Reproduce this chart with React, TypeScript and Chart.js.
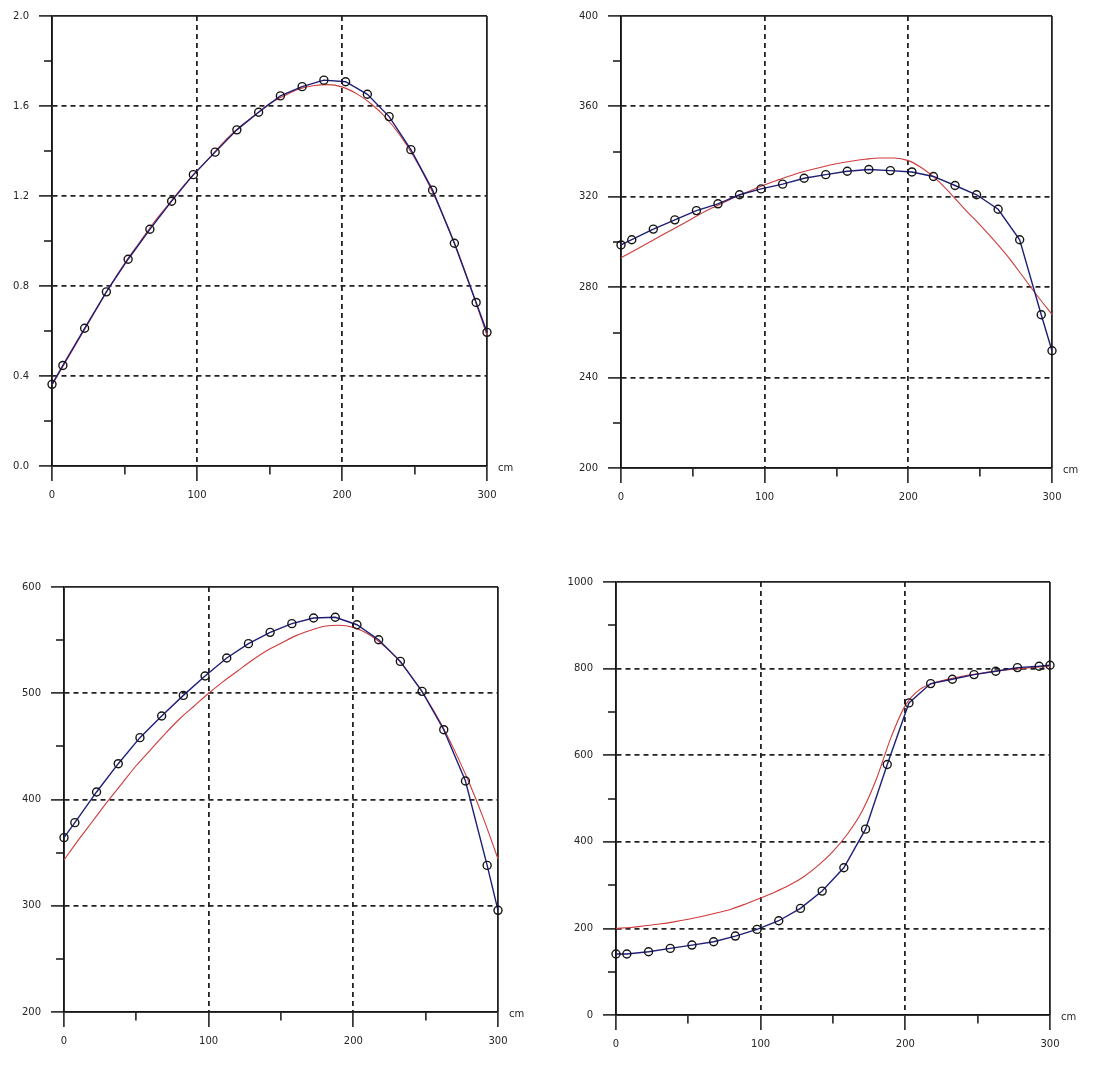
import React, { useEffect, useRef } from 'react';
import { Chart, registerables } from 'chart.js';

Chart.register(...registerables);

// x positions of the numerical nodes (cm)
const xNodes = [0, 7.5, 22.5, 37.5, 52.5, 67.5, 82.5, 97.5, 112.5, 127.5, 142.5, 157.5, 172.5, 187.5, 202.5, 217.5, 232.5, 247.5, 262.5, 277.5, 292.5, 300];
// x positions of the analytical curve samples (cm)
const xCurve = [0, 10, 20, 30, 40, 50, 60, 70, 80, 90, 100, 110, 120, 130, 140, 150, 160, 170, 180, 190, 200, 210, 220, 230, 240, 250, 260, 270, 280, 290, 300];

// Panel 1 (top-left)
const p1Nodes = [0.363, 0.447, 0.612, 0.774, 0.919, 1.052, 1.177, 1.295, 1.395, 1.494, 1.572, 1.645, 1.686, 1.715, 1.708, 1.652, 1.553, 1.406, 1.226, 0.99, 0.727, 0.594];
const p1Curve = [0.36, 0.47, 0.58, 0.69, 0.8, 0.9, 0.99, 1.08, 1.16, 1.24, 1.31, 1.38, 1.45, 1.51, 1.56, 1.61, 1.645, 1.675, 1.69, 1.695, 1.685, 1.655, 1.61, 1.55, 1.47, 1.37, 1.25, 1.11, 0.95, 0.77, 0.58];

// Panel 2 (top-right)
const p2Nodes = [298.7, 301.0, 305.7, 309.8, 313.9, 316.9, 320.9, 323.5, 325.6, 328.2, 329.8, 331.3, 332.1, 331.6, 331.0, 329.0, 325.0, 320.9, 314.5, 301.0, 267.8, 251.9];
const p2Curve = [293, 296.5, 300, 303.5, 307, 310.5, 314, 317, 320, 322.7, 325.3, 327.6, 329.8, 331.6, 333.2, 334.6, 335.7, 336.6, 337.2, 337.2, 336, 332.5, 327.5, 321, 314, 307.5, 300.5, 293, 284.5, 276, 268];

// Panel 3 (bottom-left)
const p3Nodes = [364.1, 378.2, 407.1, 433.7, 458.2, 478.6, 498.0, 516.2, 533.2, 546.7, 557.3, 565.5, 570.8, 571.5, 564.5, 550.4, 530.0, 501.8, 465.7, 417.4, 338.0, 295.7];
const p3Curve = [343, 362, 380, 398, 415, 432, 447, 462, 476, 488, 500, 511, 521, 531, 540, 547, 554, 559, 563, 564, 562, 556, 546, 533, 516, 496, 473, 446, 416, 382, 344];

// Panel 4 (bottom-right)
const p4Nodes = [140.8, 140.8, 146, 153.8, 161.5, 169.2, 182.3, 197.7, 217.7, 246.2, 286.2, 340, 429.2, 578.5, 720.8, 765.4, 775.4, 786.2, 793.8, 802.3, 805.4, 807.7];
const p4Curve = [200, 202, 206, 210, 215, 221, 228, 236, 245, 257, 270, 284, 300, 320, 346, 378, 418, 470, 545, 640, 715, 752, 767, 776, 783, 788, 793, 797, 800, 803, 805];

// axis ranges / tick steps
const xMin = 0;
const xMax = 300;
const xMajor = 100;
const xMinor = 50;
const xUnit = 'cm';

const yRanges = [
  { min: 0, max: 2, major: 0.4, minor: 0.2, decimals: 1 },
  { min: 200, max: 400, major: 40, minor: 20, decimals: 0 },
  { min: 200, max: 600, major: 100, minor: 50, decimals: 0 },
  { min: 0, max: 1000, major: 200, minor: 100, decimals: 0 },
];

const BLUE = '#1e1e78';
const RED = '#cf3b3b';
const INK = '#151515';
const GRID = '#222222';
const LABEL = '#262626';
const FONT = { family: '"DejaVu Sans", "Liberation Sans", sans-serif', size: 10 };

type Layout = { left: number; top: number; width: number; height: number; padLeft: number; padTop: number; padRight: number; xHeight: number };

const layouts: Layout[] = [
  { left: 0, top: 0, width: 553, height: 530, padLeft: 52, padTop: 14, padRight: 66, xHeight: 64 },
  { left: 553, top: 0, width: 554, height: 530, padLeft: 68, padTop: 16, padRight: 55, xHeight: 62 },
  { left: 0, top: 530, width: 553, height: 551, padLeft: 64, padTop: 57, padRight: 55, xHeight: 69 },
  { left: 553, top: 530, width: 554, height: 551, padLeft: 63, padTop: 52, padRight: 57, xHeight: 66 },
];

const nodeSeries = [p1Nodes, p2Nodes, p3Nodes, p4Nodes];
const curveSeries = [p1Curve, p2Curve, p3Curve, p4Curve];

const near = (a: number, b: number) => Math.abs(a - b) < 1e-6;
const isMult = (v: number, step: number) => Math.abs(v / step - Math.round(v / step)) < 1e-6;

const unitPlugin = {
  id: 'unitLabel',
  afterDraw(chart: any) {
    const { ctx, chartArea } = chart;
    ctx.save();
    ctx.font = `10px ${FONT.family}`;
    ctx.fillStyle = LABEL;
    ctx.textAlign = 'left';
    ctx.textBaseline = 'middle';
    ctx.fillText(xUnit, chartArea.right + 11, chartArea.bottom + 2);
    ctx.restore();
  },
};

function makeConfig(i: number): any {
  const lay = layouts[i];
  const yr = yRanges[i];
  const nodes = nodeSeries[i];
  const curve = curveSeries[i];

  const xGridDash = (c: any) => {
    if (!c.tick) return [];
    const v = c.tick.value;
    if (near(v, xMin) || near(v, xMax)) return [];
    return [5, 4];
  };
  const yGridDash = (c: any) => {
    if (!c.tick) return [];
    const v = c.tick.value;
    if (near(v, yr.min) || near(v, yr.max)) return [];
    return [5, 4];
  };

  return {
    type: 'line',
    data: {
      datasets: [
        {
          label: 'numerical',
          data: xNodes.map((x, k) => ({ x, y: nodes[k] })),
          borderColor: BLUE,
          borderWidth: 1.4,
          pointRadius: 4,
          pointStyle: 'circle',
          pointBorderColor: INK,
          pointBackgroundColor: 'rgba(255,255,255,0)',
          pointBorderWidth: 1.4,
          tension: 0,
          clip: false,
        },
        {
          label: 'analytical',
          data: xCurve.map((x, k) => ({ x, y: curve[k] })),
          borderColor: RED,
          borderWidth: 1.1,
          pointRadius: 0,
          cubicInterpolationMode: 'monotone',
          clip: false,
        },
      ],
    },
    options: {
      animation: false,
      responsive: false,
      events: [],
      layout: { padding: { left: 0, top: lay.padTop, right: lay.padRight, bottom: 0 } },
      plugins: { legend: { display: false }, tooltip: { enabled: false }, title: { display: false } },
      scales: {
        x: {
          type: 'linear',
          min: xMin,
          max: xMax,
          ticks: {
            stepSize: xMinor,
            autoSkip: false,
            maxRotation: 0,
            padding: 8,
            color: LABEL,
            font: FONT,
            callback: (v: number) => (isMult(v, xMajor) ? String(Math.round(v)) : ''),
          },
          grid: {
            color: (c: any) => (c.tick && isMult(c.tick.value, xMajor) ? GRID : 'rgba(0,0,0,0)'),
            lineWidth: 1.8,
            tickLength: 15,
            tickColor: INK,
            tickWidth: 1.5,
            tickBorderDash: (c: any) => (c.tick && isMult(c.tick.value, xMajor) ? [] : [8, 100]),
          },
          border: { display: true, color: INK, width: 1.5, dash: xGridDash },
          afterFit: (s: any) => {
            s.height = lay.xHeight;
          },
        },
        y: {
          type: 'linear',
          min: yr.min,
          max: yr.max,
          ticks: {
            stepSize: yr.minor,
            autoSkip: false,
            padding: 10,
            color: LABEL,
            font: FONT,
            callback: (v: number) => (isMult(v, yr.major) ? v.toFixed(yr.decimals) : ''),
          },
          grid: {
            color: (c: any) => (c.tick && isMult(c.tick.value, yr.major) ? GRID : 'rgba(0,0,0,0)'),
            lineWidth: 1.8,
            tickLength: 13,
            tickColor: INK,
            tickWidth: 1.5,
            tickBorderDash: (c: any) => (c.tick && isMult(c.tick.value, yr.major) ? [] : [0, 5, 8, 100]),
          },
          border: { display: true, color: INK, width: 1.5, dash: yGridDash },
          afterFit: (s: any) => {
            s.width = lay.padLeft;
          },
        },
      },
    },
    plugins: [unitPlugin],
  };
}

function Panel({ index }: { index: number }) {
  const ref = useRef<HTMLCanvasElement | null>(null);
  const lay = layouts[index];
  useEffect(() => {
    if (!ref.current) return;
    const chart = new Chart(ref.current, makeConfig(index));
    return () => chart.destroy();
  }, [index]);
  return (
    <canvas
      ref={ref}
      width={lay.width}
      height={lay.height}
      style={{ position: 'absolute', left: lay.left, top: lay.top, width: lay.width, height: lay.height }}
    />
  );
}

export default function App() {
  return (
    <div style={{ position: 'absolute', left: 0, top: 0, width: 1107, height: 1081, background: '#ffffff' }}>
      {layouts.map((_, i) => (
        <Panel key={i} index={i} />
      ))}
    </div>
  );
}
